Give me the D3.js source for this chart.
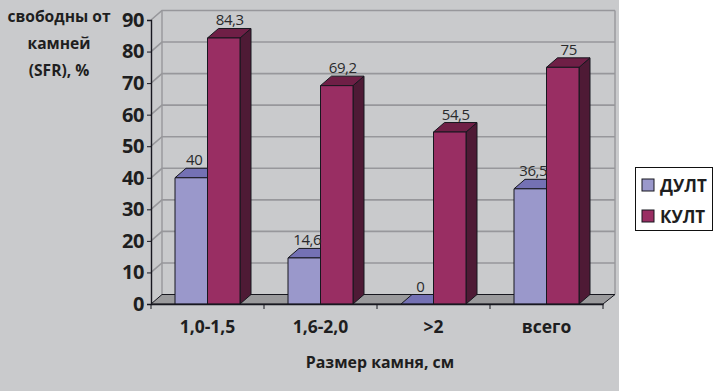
<!DOCTYPE html>
<html>
<head>
<meta charset="utf-8">
<script src="https://cdn.jsdelivr.net/npm/d3@7"></script>
<style>
  html, body { margin: 0; padding: 0; background: #fff; }
  svg { display: block; }
  text { font-family: "Open Sans", sans-serif; fill: #1e1e20; }
  .bold { font-weight: 700; }
  .value { font-size: 15px; letter-spacing: -0.4px; fill: #2a2a2c; }
</style>
</head>
<body>
<div id="vis"></div>
<script>
const categories = ["1,0-1,5", "1,6-2,0", ">2", "всего"];
const seriesNames = ["ДУЛТ", "КУЛТ"];
const dult = [40, 14.6, 0, 36.5];
const kult = [84.3, 69.2, 54.5, 75];
const dultLabels = ["40", "14,6", "0", "36,5"];
const kultLabels = ["84,3", "69,2", "54,5", "75"];
const yTicks = [0, 10, 20, 30, 40, 50, 60, 70, 80, 90];
const yTitle = ["свободны от", "камней", "(SFR), %"];
const xTitle = "Размер камня, см";

const FRAME_WIDTH = 713;
const FRAME_HEIGHT = 391;
const PANEL_WIDTH = 619;
const DEPTH_X = 11;
const DEPTH_Y = 9.5;
const BAR_WIDTH = 32.5;

const COLORS = {
  panel: "#c9cacc",
  grid: "#97979b",
  floor: "#9a9a9c",
  line: "#17171f",
};
const FILLS = [
  { front: "#9a98cb", top: "#7471b4", side: "#5f5c9c" },
  { front: "#992e63", top: "#6f1f46", side: "#4e1a35" },
];

const svg = d3
  .select("#vis")
  .append("svg")
  .attr("width", FRAME_WIDTH)
  .attr("height", FRAME_HEIGHT);

svg.append("rect")
  .attr("width", PANEL_WIDTH)
  .attr("height", FRAME_HEIGHT)
  .attr("fill", COLORS.panel);

const X_SCALE = d3.scaleBand().domain(categories).range([151, 603]);
const X_INNER = d3.scaleBand().domain(seriesNames).range([-BAR_WIDTH, BAR_WIDTH]);
const Y_SCALE = d3.scaleLinear().domain([0, 90]).range([304, 20]);

const xLeft = X_SCALE.range()[0];
const xRight = X_SCALE.range()[1];
const y0 = Y_SCALE(0);

// back wall + gridlines
yTicks.forEach((t) => {
  const y = Y_SCALE(t);
  svg.append("path")
    .attr("d", `M${xLeft},${y}L${xLeft + DEPTH_X},${y - DEPTH_Y}L${xRight + DEPTH_X + 1},${y - DEPTH_Y}`)
    .attr("fill", "none")
    .attr("stroke", COLORS.grid)
    .attr("stroke-width", t === 0 ? 0 : 1.6);
});
svg.append("line")
  .attr("x1", xLeft + DEPTH_X).attr("x2", xLeft + DEPTH_X)
  .attr("y1", Y_SCALE(90) - DEPTH_Y).attr("y2", y0 - DEPTH_Y)
  .attr("stroke", COLORS.grid).attr("stroke-width", 1.4);
svg.append("line")
  .attr("x1", xRight + DEPTH_X + 1).attr("x2", xRight + DEPTH_X + 1)
  .attr("y1", Y_SCALE(90) - DEPTH_Y).attr("y2", y0 - DEPTH_Y)
  .attr("stroke", COLORS.grid).attr("stroke-width", 1.4);

// floor
svg.append("path")
  .attr("d", `M${xLeft},${y0}L${xLeft + DEPTH_X},${y0 - DEPTH_Y}L${xRight + DEPTH_X + 1},${y0 - DEPTH_Y}L${xRight},${y0}Z`)
  .attr("fill", COLORS.floor)
  .attr("stroke", COLORS.line)
  .attr("stroke-width", 1);

// bars
const rows = [];
categories.forEach((c, i) => {
  rows.push({ cat: c, s: 0, value: dult[i], label: dultLabels[i] });
  rows.push({ cat: c, s: 1, value: kult[i], label: kultLabels[i] });
});

const bars = svg.selectAll(".bar")
  .data(rows)
  .enter()
  .append("g")
  .attr("class", "bar")
  .attr("stroke", COLORS.line)
  .attr("stroke-width", 1)
  .attr("stroke-linejoin", "round");

const barLeft = (d) => X_SCALE(d.cat) + X_SCALE.bandwidth() / 2 + X_INNER(seriesNames[d.s]);

bars.append("path")
  .attr("d", (d) => {
    const x = barLeft(d) + BAR_WIDTH, y = Y_SCALE(d.value);
    return `M${x},${y}L${x + DEPTH_X},${y - DEPTH_Y}L${x + DEPTH_X},${y0 - DEPTH_Y}L${x},${y0}Z`;
  })
  .attr("fill", (d) => FILLS[d.s].side);

bars.append("path")
  .attr("d", (d) => {
    const x = barLeft(d), y = Y_SCALE(d.value);
    return `M${x},${y}L${x + DEPTH_X},${y - DEPTH_Y}L${x + BAR_WIDTH + DEPTH_X},${y - DEPTH_Y}L${x + BAR_WIDTH},${y}Z`;
  })
  .attr("fill", (d) => FILLS[d.s].top);

bars.append("rect")
  .attr("x", barLeft)
  .attr("y", (d) => Y_SCALE(d.value))
  .attr("width", BAR_WIDTH)
  .attr("height", (d) => y0 - Y_SCALE(d.value))
  .attr("fill", (d) => FILLS[d.s].front);

svg.selectAll(".value")
  .data(rows)
  .enter()
  .append("text")
  .attr("class", "value")
  .attr("text-anchor", "middle")
  .attr("x", (d) => barLeft(d) + BAR_WIDTH / 2 + (d.s === 0 ? 3 : 6))
  .attr("y", (d) => Y_SCALE(d.value) - DEPTH_Y - 3)
  .text((d) => d.label);

// axes
const yAxis = svg.append("g")
  .attr("transform", "translate(" + xLeft + ",0)")
  .call(d3.axisLeft(Y_SCALE).tickValues(yTicks).tickSize(4).tickPadding(3));
yAxis.selectAll("text")
  .attr("class", "bold")
  .attr("font-size", "20px")
  .style("letter-spacing", "-0.4px");

const xAxis = svg.append("g")
  .attr("transform", "translate(0," + y0 + ")")
  .call(d3.axisBottom(X_SCALE).tickSize(0).tickPadding(17));
xAxis.selectAll("text")
  .attr("class", "bold")
  .attr("font-size", "17.5px");

// ticks sit between the groups, not under them
const xEdges = categories.map((c) => X_SCALE(c)).concat([xRight]);
svg.selectAll(".xedge")
  .data(xEdges)
  .enter()
  .append("line")
  .attr("x1", (d) => d).attr("x2", (d) => d)
  .attr("y1", y0).attr("y2", y0 + 5)
  .attr("stroke", COLORS.line);

svg.selectAll("g.tick line").attr("stroke", COLORS.line);
svg.selectAll(".domain").attr("stroke", COLORS.line).attr("stroke-width", 1.4);

// titles
svg.selectAll(".ytitle")
  .data(yTitle)
  .enter()
  .append("text")
  .attr("class", "bold")
  .attr("text-anchor", "middle")
  .attr("font-size", "15.6px")
  .attr("x", 59)
  .attr("y", (d, i) => 22 + i * 27)
  .text((d) => d);

svg.append("text")
  .attr("class", "bold")
  .attr("text-anchor", "middle")
  .attr("font-size", "15.9px")
  .attr("x", 380)
  .attr("y", 368)
  .text(xTitle);

// legend
svg.append("rect")
  .attr("x", 635.5).attr("y", 167.5)
  .attr("width", 77).attr("height", 63)
  .attr("fill", "#fff")
  .attr("stroke", "#111").attr("stroke-width", 1);

const legend = svg.selectAll(".legend")
  .data(seriesNames)
  .enter()
  .append("g")
  .attr("class", "legend")
  .attr("transform", (d, i) => "translate(642," + (179 + i * 31) + ")");

legend.append("rect")
  .attr("width", 12).attr("height", 12)
  .attr("fill", (d, i) => FILLS[i].front)
  .attr("stroke", COLORS.line);

legend.append("text")
  .attr("class", "bold")
  .attr("x", 18)
  .attr("y", 13)
  .attr("font-size", "17px")
  .text((d) => d);
</script>
</body>
</html>
